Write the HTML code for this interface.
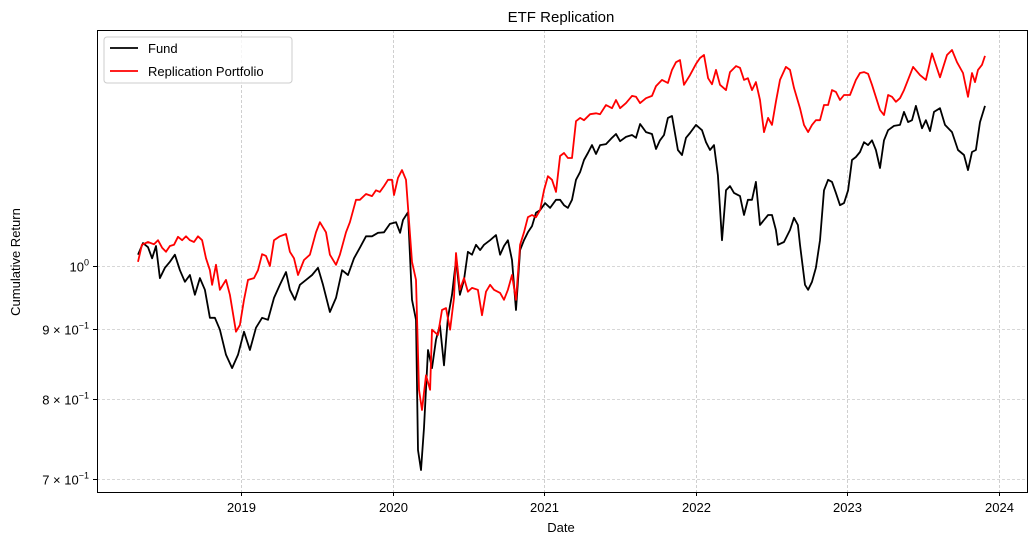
<!DOCTYPE html>
<html><head><meta charset="utf-8"><style>
body{margin:0;background:#fff;}
svg{display:block;font-family:"Liberation Sans","DejaVu Sans",sans-serif;}
</style></head><body>
<svg id="chart" width="1036" height="545" viewBox="0 0 1036 545" xmlns="http://www.w3.org/2000/svg">
<rect x="0" y="0" width="1036" height="545" fill="#fff"/>
<text x="561" y="22" text-anchor="middle" font-size="15">ETF Replication</text>
<g id="grid"></g>
<g id="series"></g>
<rect x="97.5" y="30.5" width="930" height="462" fill="none" stroke="#000" stroke-width="1"/>
<g id="axes"></g>
<text x="561" y="532" text-anchor="middle" font-size="13">Date</text>
<text transform="translate(20,262) rotate(-90)" text-anchor="middle" font-size="13">Cumulative Return</text>
<g>
<rect x="104" y="37" width="188" height="46" rx="3" fill="#fff" fill-opacity="0.8" stroke="#ccc"/>
<g>
<line x1="110" y1="48" x2="138" y2="48" stroke="#000" stroke-width="1.8"/>
<text x="148" y="53" font-size="13">Fund</text></g>
<g>
<line x1="110" y1="71" x2="138" y2="71" stroke="#f00" stroke-width="1.8"/>
<text x="148" y="76" font-size="13">Replication Portfolio</text></g>
</g>
</svg>
<script>
const fundDates=[2018.320,2018.353,2018.386,2018.413,2018.439,2018.465,2018.498,2018.531,2018.564,2018.597,2018.630,2018.663,2018.696,2018.729,2018.762,2018.795,2018.828,2018.861,2018.901,2018.941,2018.980,2019.020,2019.059,2019.099,2019.139,2019.178,2019.218,2019.257,2019.297,2019.323,2019.356,2019.389,2019.429,2019.469,2019.508,2019.541,2019.587,2019.627,2019.667,2019.706,2019.746,2019.785,2019.825,2019.865,2019.904,2019.944,2019.983,2020.023,2020.050,2020.069,2020.102,2020.129,2020.155,2020.168,2020.188,2020.208,2020.234,2020.261,2020.287,2020.313,2020.340,2020.366,2020.393,2020.419,2020.445,2020.472,2020.498,2020.525,2020.551,2020.578,2020.604,2020.644,2020.683,2020.710,2020.736,2020.762,2020.789,2020.815,2020.842,2020.868,2020.894,2020.921,2020.947,2020.974,2021.007,2021.040,2021.079,2021.106,2021.132,2021.158,2021.185,2021.211,2021.238,2021.264,2021.290,2021.317,2021.343,2021.370,2021.409,2021.449,2021.475,2021.502,2021.541,2021.581,2021.607,2021.634,2021.673,2021.713,2021.739,2021.766,2021.792,2021.818,2021.845,2021.884,2021.911,2021.937,2021.964,2022.003,2022.043,2022.069,2022.096,2022.122,2022.148,2022.175,2022.201,2022.228,2022.254,2022.294,2022.320,2022.346,2022.373,2022.399,2022.426,2022.452,2022.479,2022.505,2022.531,2022.544,2022.584,2022.624,2022.650,2022.676,2022.690,2022.723,2022.743,2022.769,2022.795,2022.822,2022.848,2022.875,2022.901,2022.927,2022.954,2022.980,2023.007,2023.033,2023.059,2023.086,2023.112,2023.139,2023.165,2023.191,2023.218,2023.244,2023.271,2023.310,2023.350,2023.376,2023.403,2023.429,2023.455,2023.495,2023.521,2023.548,2023.574,2023.614,2023.647,2023.693,2023.733,2023.772,2023.799,2023.825,2023.851,2023.878,2023.911];
const fundValues=[1.019,1.039,1.032,1.013,1.034,0.980,0.997,1.007,1.019,0.993,0.974,0.985,0.953,0.980,0.961,0.917,0.917,0.899,0.862,0.843,0.862,0.896,0.869,0.902,0.917,0.914,0.948,0.969,0.990,0.961,0.945,0.969,0.977,0.985,0.997,0.969,0.926,0.948,0.993,0.985,1.013,1.031,1.051,1.051,1.057,1.058,1.073,1.076,1.057,1.080,1.094,0.945,0.914,0.735,0.711,0.763,0.869,0.843,0.884,0.906,0.847,0.917,0.953,1.010,0.953,0.977,1.024,1.019,1.036,1.027,1.036,1.044,1.053,1.019,1.034,1.044,1.010,0.929,1.027,1.044,1.058,1.069,1.093,1.098,1.111,1.102,1.117,1.117,1.107,1.102,1.117,1.155,1.170,1.194,1.208,1.224,1.206,1.224,1.226,1.239,1.247,1.232,1.241,1.245,1.239,1.268,1.251,1.247,1.216,1.234,1.245,1.281,1.285,1.214,1.204,1.239,1.249,1.266,1.255,1.230,1.214,1.224,1.164,1.044,1.135,1.143,1.130,1.124,1.089,1.117,1.117,1.151,1.071,1.080,1.089,1.089,1.062,1.036,1.041,1.062,1.084,1.071,1.036,0.969,0.961,0.974,0.997,1.044,1.135,1.155,1.151,1.130,1.107,1.111,1.135,1.194,1.200,1.210,1.230,1.224,1.234,1.214,1.178,1.234,1.255,1.264,1.266,1.294,1.272,1.276,1.307,1.259,1.276,1.253,1.294,1.302,1.266,1.251,1.214,1.204,1.174,1.210,1.214,1.272,1.307];
const replDates=[2018.320,2018.346,2018.386,2018.426,2018.452,2018.479,2018.505,2018.531,2018.558,2018.584,2018.611,2018.637,2018.663,2018.690,2018.716,2018.743,2018.769,2018.795,2018.809,2018.835,2018.861,2018.901,2018.927,2018.967,2018.993,2019.020,2019.046,2019.086,2019.112,2019.139,2019.165,2019.191,2019.218,2019.257,2019.297,2019.323,2019.350,2019.376,2019.416,2019.455,2019.495,2019.521,2019.561,2019.587,2019.627,2019.653,2019.693,2019.719,2019.759,2019.785,2019.825,2019.865,2019.891,2019.917,2019.944,2019.970,2019.997,2020.010,2020.036,2020.063,2020.089,2020.129,2020.155,2020.175,2020.195,2020.221,2020.248,2020.261,2020.300,2020.327,2020.353,2020.380,2020.406,2020.419,2020.445,2020.472,2020.498,2020.525,2020.564,2020.591,2020.617,2020.644,2020.670,2020.710,2020.736,2020.762,2020.789,2020.815,2020.842,2020.868,2020.894,2020.921,2020.947,2020.974,2021.000,2021.026,2021.053,2021.079,2021.106,2021.132,2021.158,2021.185,2021.211,2021.238,2021.264,2021.304,2021.343,2021.370,2021.409,2021.449,2021.475,2021.502,2021.541,2021.581,2021.607,2021.634,2021.673,2021.713,2021.739,2021.779,2021.818,2021.845,2021.871,2021.898,2021.924,2021.964,2022.003,2022.030,2022.056,2022.083,2022.109,2022.135,2022.162,2022.201,2022.228,2022.267,2022.294,2022.320,2022.346,2022.373,2022.399,2022.426,2022.452,2022.479,2022.505,2022.531,2022.558,2022.597,2022.624,2022.650,2022.690,2022.716,2022.743,2022.769,2022.795,2022.822,2022.848,2022.875,2022.901,2022.927,2022.954,2022.980,2023.020,2023.059,2023.086,2023.112,2023.139,2023.165,2023.218,2023.244,2023.271,2023.297,2023.323,2023.350,2023.376,2023.436,2023.482,2023.521,2023.561,2023.614,2023.660,2023.693,2023.726,2023.766,2023.799,2023.825,2023.845,2023.865,2023.891,2023.911];
const replValues=[1.007,1.036,1.041,1.037,1.044,1.031,1.024,1.034,1.036,1.050,1.044,1.051,1.044,1.041,1.051,1.044,1.013,0.993,0.969,1.002,0.961,0.977,0.953,0.896,0.906,0.945,0.977,0.980,0.993,1.020,1.017,1.000,1.044,1.051,1.055,1.024,1.013,0.985,1.010,1.019,1.058,1.076,1.058,1.019,1.002,1.019,1.058,1.076,1.117,1.117,1.128,1.124,1.135,1.132,1.143,1.155,1.155,1.126,1.159,1.174,1.155,1.007,0.977,0.813,0.786,0.833,0.813,0.899,0.891,0.929,0.932,0.899,0.948,1.022,0.961,0.980,0.958,0.964,0.961,0.921,0.958,0.969,0.961,0.956,0.945,0.961,0.985,0.945,1.036,1.058,1.085,1.089,1.085,1.098,1.135,1.162,1.155,1.132,1.202,1.208,1.198,1.198,1.274,1.281,1.276,1.289,1.291,1.289,1.309,1.302,1.320,1.302,1.313,1.329,1.327,1.313,1.324,1.329,1.351,1.365,1.358,1.388,1.406,1.411,1.354,1.376,1.402,1.416,1.423,1.369,1.355,1.388,1.354,1.342,1.383,1.397,1.393,1.365,1.369,1.342,1.360,1.320,1.251,1.281,1.266,1.316,1.365,1.395,1.388,1.347,1.302,1.266,1.251,1.266,1.276,1.276,1.309,1.309,1.342,1.338,1.320,1.331,1.331,1.365,1.381,1.383,1.379,1.354,1.298,1.287,1.331,1.327,1.316,1.324,1.342,1.395,1.376,1.365,1.427,1.371,1.423,1.435,1.406,1.381,1.327,1.381,1.360,1.388,1.400,1.421];
const xTicks=[2019,2020,2021,2022,2023,2024];
const yTicks=[1.0,0.9,0.8,0.7];
const yTickMant=["","9","8","7"];

const NS="http://www.w3.org/2000/svg";
const xs=t=>241+(t-2019)*151.5;
const ys=v=>266-1377*Math.log10(v);
function mk(tag,attrs,parent){const e=document.createElementNS(NS,tag);for(const k in attrs)e.setAttribute(k,attrs[k]);parent.appendChild(e);return e;}
const grid=document.getElementById('grid'),axes=document.getElementById('axes'),series=document.getElementById('series');
xTicks.forEach(t=>{
  const x=Math.round(xs(t))+0.5;
  const gl=mk('line',{x1:x,y1:30,x2:x,y2:492,stroke:'#b0b0b0','stroke-width':0.6,'stroke-dasharray':'3,2'},grid);
  
  
  mk('line',{x1:x,y1:492,x2:x,y2:496,stroke:'#000'},axes);
  const tx=mk('text',{x:x,y:512,'text-anchor':'middle','font-size':13},axes);
  tx.textContent=t;
  
  
});
yTicks.forEach((v,i)=>{
  const y=Math.round(ys(v))+0.5;
  const gl=mk('line',{x1:97,y1:y,x2:1027,y2:y,stroke:'#b0b0b0','stroke-width':0.6,'stroke-dasharray':'3,2'},grid);
  
  
  mk('line',{x1:93,y1:y,x2:97,y2:y,stroke:'#000'},axes);
  const tx=mk('text',{x:89,y:y+5,'text-anchor':'end','font-size':13},axes);
  
  
  if(yTickMant[i]===''){tx.innerHTML='10<tspan dy="-6" font-size="9">0</tspan>';}
  else{tx.innerHTML=yTickMant[i]+' × 10<tspan dy="-6" font-size="9">−1</tspan>';}
});
function drawLine(dates,vals,color,name){
  const d=dates.map((t,i)=>(i?'L':'M')+xs(t).toFixed(1)+','+ys(vals[i]).toFixed(1)).join(' ');
  const p=mk('path',{d:d,fill:'none',stroke:color,'stroke-width':1.8,'stroke-linejoin':'round'},series);
  
  
}
drawLine(fundDates,fundValues,'#000','fund-line');
drawLine(replDates,replValues,'#f00','replication-portfolio-line');
</script>
</body></html>
